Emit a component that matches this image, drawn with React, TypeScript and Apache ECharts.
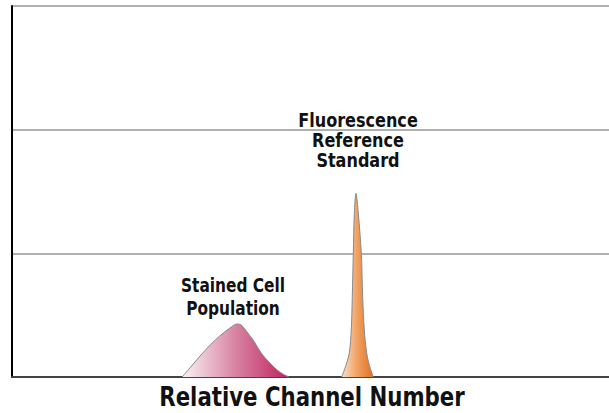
import React, { useEffect, useRef } from "react";
import * as echarts from "echarts";

const stainedChannels = [285, 298, 315, 332, 348, 365, 377, 384, 390, 395, 404, 412, 420, 432, 444, 454, 464];
const stainedCounts = [0, 7.3, 17, 25.9, 33.2, 39.6, 42.9, 42, 38.8, 35.6, 29.9, 23.5, 17.8, 11.3, 5.7, 2.4, 0];

const refChannels = [552.3, 559.5, 565.0, 568.3, 570.0, 571.7, 573.4, 576.2, 580.1, 585.1, 587.4, 590.1, 594.1, 598.5, 605.2];
const refCounts = [0, 9.7, 19.4, 38, 64.9, 100, 132.4, 148.5, 132.4, 100, 64.9, 38, 19.4, 9.7, 0];

const xTitle = "Relative Channel Number";
const stainedLabel = ["Stained Cell", "Population"];
const refLabel = ["Fluorescence", "Reference", "Standard"];

const FONT = "'DejaVu Sans Condensed', 'DejaVu Sans', sans-serif";

export default function App() {
  const ref = useRef<HTMLDivElement>(null);
  useEffect(() => {
    if (!ref.current) return;
    const chart = echarts.init(ref.current, undefined, { renderer: "svg" });
    const stainedData = stainedChannels.map((c, i) => [c, stainedCounts[i]]);
    const refData = refChannels.map((c, i) => [c, refCounts[i]]);
    const label = (t: string, x: number, y: number, size: number, sx: number) => ({
      type: "text",
      x,
      y,
      scaleX: sx,
      style: {
        text: t,
        fontFamily: FONT,
        fontWeight: "bold",
        fontSize: size,
        fill: "#111111",
        textAlign: "center",
        textVerticalAlign: "middle",
      },
    });
    chart.setOption({
      animation: false,
      backgroundColor: "#ffffff",
      grid: { left: 12, right: 0, top: 6, bottom: 36 },
      xAxis: {
        type: "value",
        min: 0,
        max: 1000,
        axisLine: { show: true, lineStyle: { color: "#444444", width: 2 } },
        axisTick: { show: false },
        axisLabel: { show: false },
        splitLine: { show: false },
      },
      yAxis: {
        type: "value",
        min: 0,
        max: 300,
        interval: 100,
        axisLine: { show: true, lineStyle: { color: "#000000", width: 2 } },
        axisTick: { show: false },
        axisLabel: { show: false },
        splitLine: { show: true, lineStyle: { color: "#b0b0b0", width: 2 } },
      },
      series: [
        {
          type: "line",
          data: stainedData,
          smooth: 0.3,
          symbol: "none",
          lineStyle: { color: "#8a8a8a", width: 1 },
          areaStyle: {
            opacity: 1,
            color: new echarts.graphic.LinearGradient(0, 0, 1, 0, [
              { offset: 0, color: "#fbf2f5" },
              { offset: 0.5, color: "#d883a2" },
              { offset: 1, color: "#bf225d" },
            ]),
          },
        },
        {
          type: "line",
          data: refData,
          smooth: 0.3,
          symbol: "none",
          lineStyle: { color: "#8a8a8a", width: 1 },
          areaStyle: {
            opacity: 1,
            color: new echarts.graphic.LinearGradient(0, 0, 1, 0, [
              { offset: 0, color: "#fbe0c8" },
              { offset: 0.5, color: "#f0a060" },
              { offset: 1, color: "#e06f22" },
            ]),
          },
        },
      ],
      graphic: [
        ...refLabel.map((t, i) => label(t, 358, 120 + i * 20, 19, 0.94)),
        ...stainedLabel.map((t, i) => label(t, 233, 285 + i * 23.5, 19, 0.9)),
        label(xTitle, 312, 397, 26, 0.91),
      ],
    });
    return () => chart.dispose();
  }, []);
  return <div ref={ref} style={{ position: "absolute", left: 0, top: 0, width: 609, height: 413 }} />;
}
